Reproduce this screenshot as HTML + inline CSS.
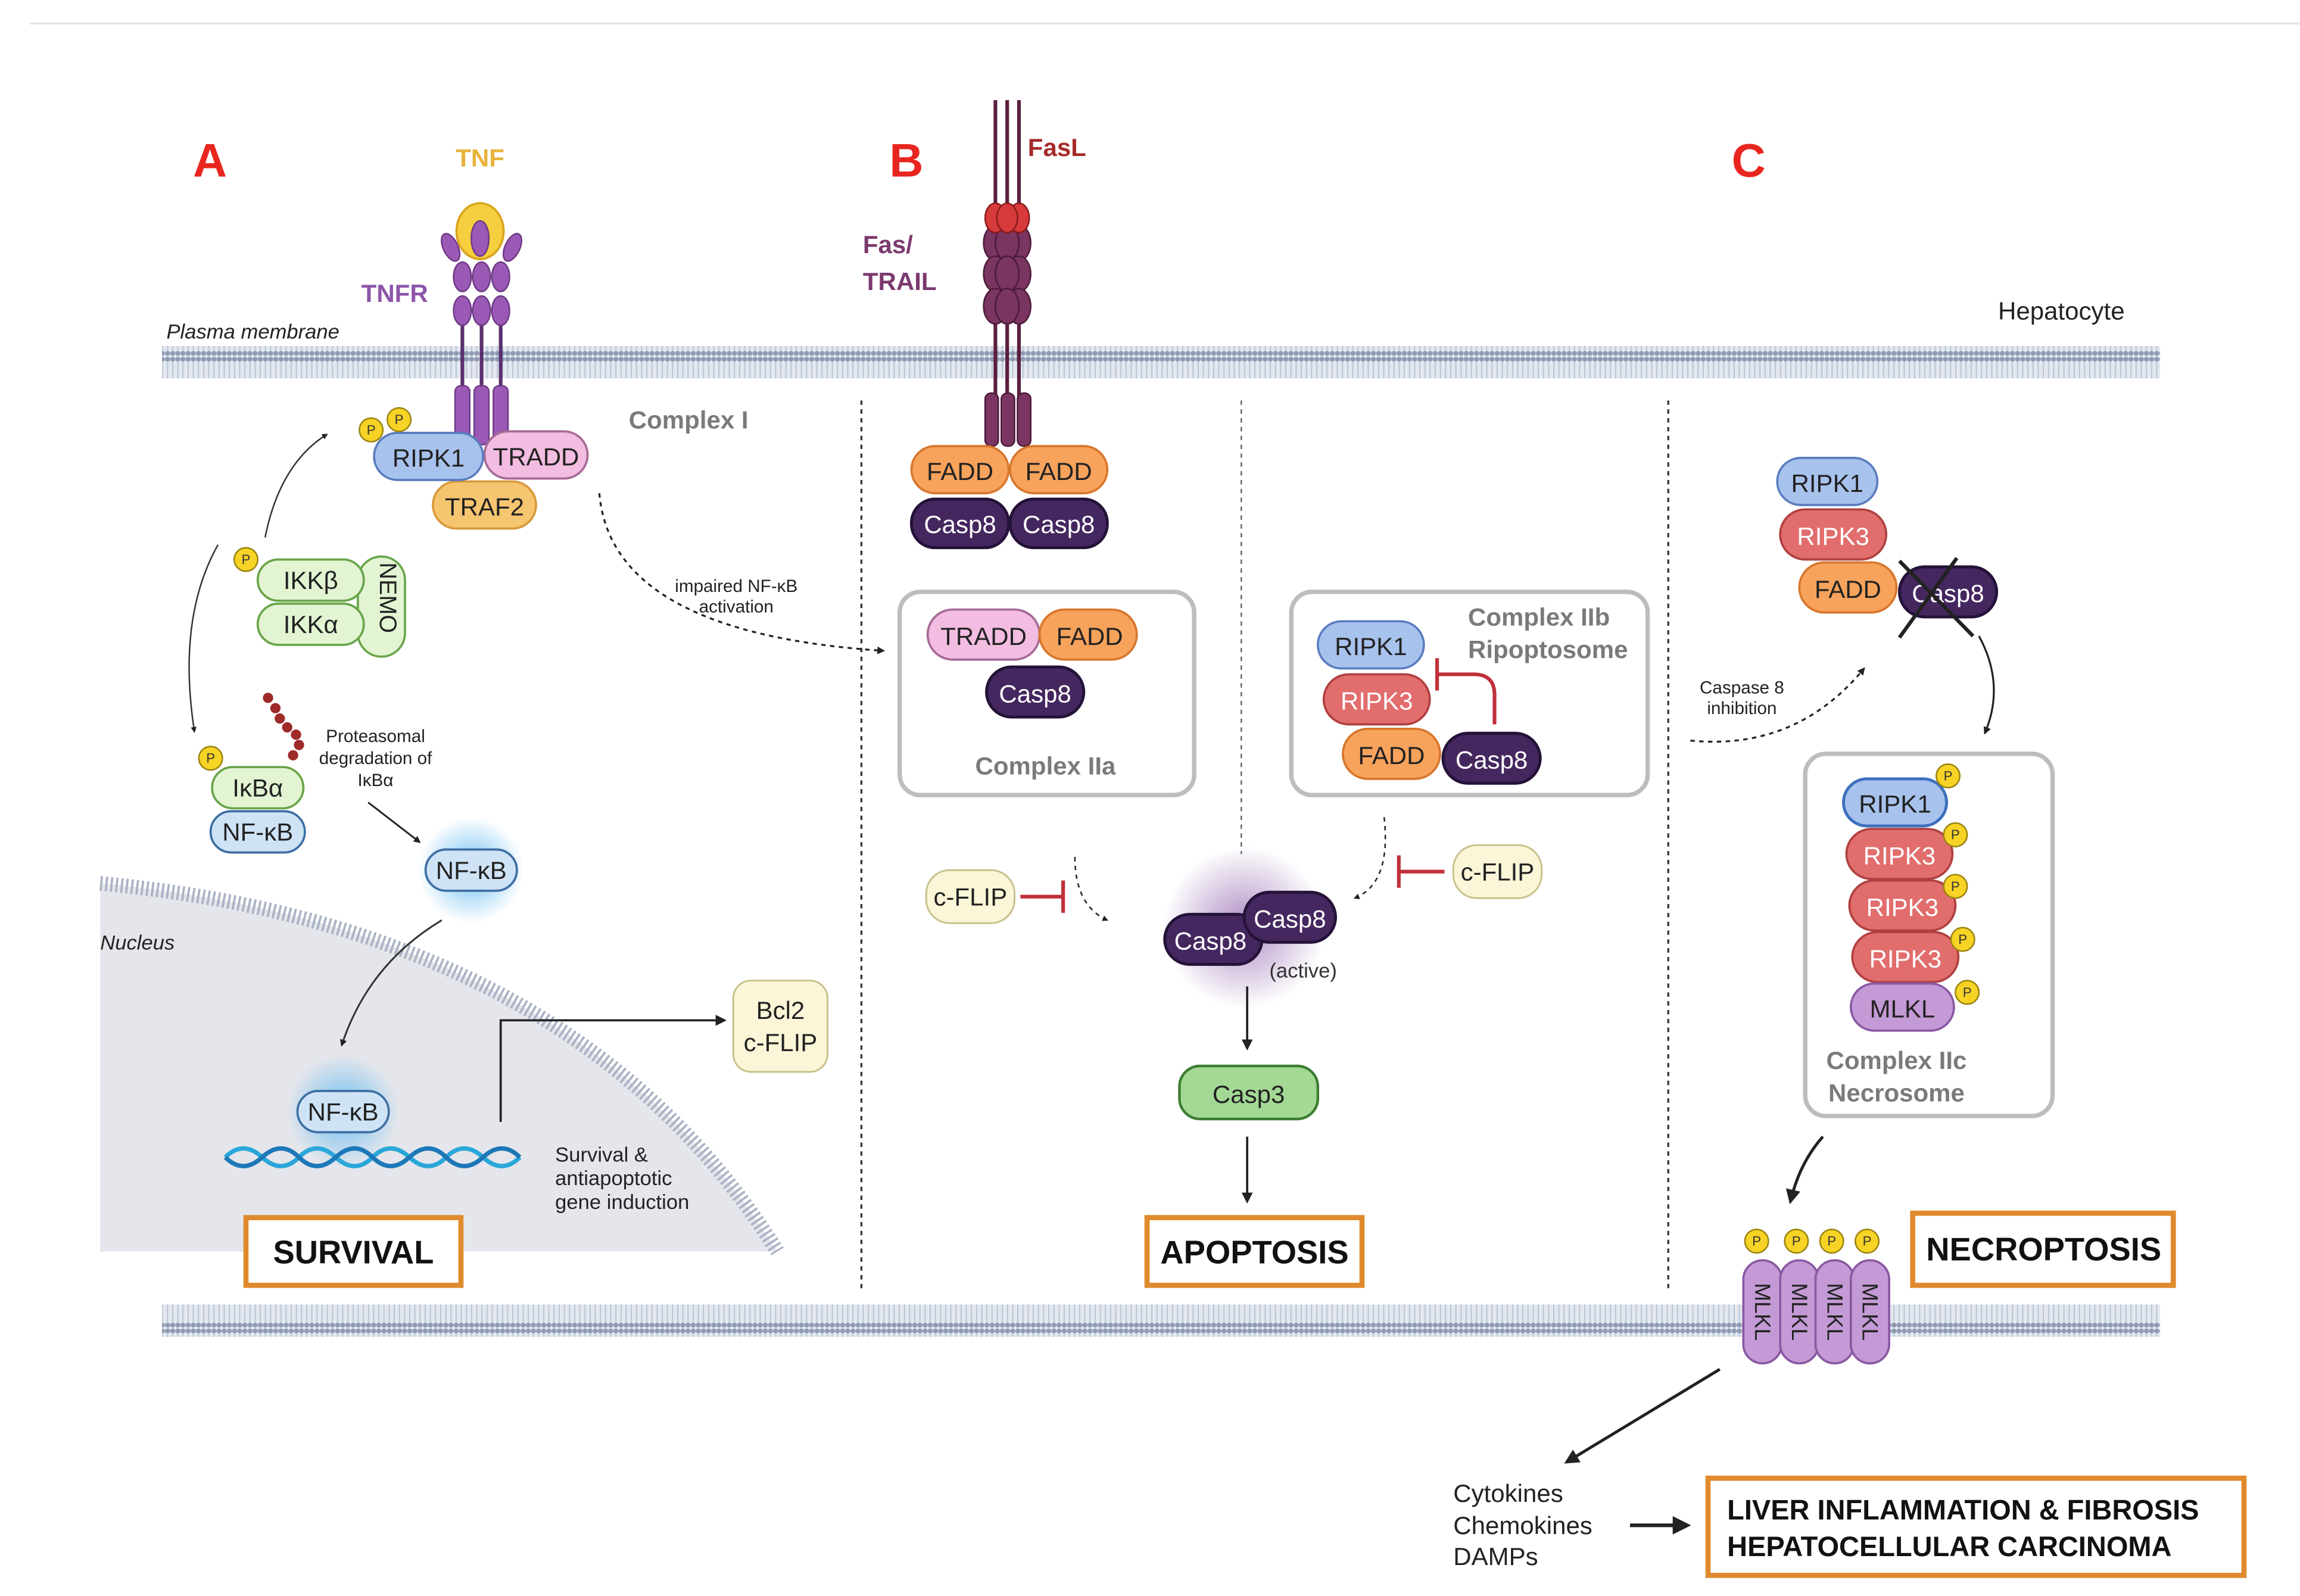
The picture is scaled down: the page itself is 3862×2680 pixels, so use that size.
<!DOCTYPE html>
<html><head><meta charset="utf-8"><style>
html,body{margin:0;padding:0;background:#fff;}
svg{display:block;}
text{font-family:"Liberation Sans",sans-serif;}
</style></head><body>
<svg width="3862" height="2680" viewBox="0 0 1562 1084" xmlns="http://www.w3.org/2000/svg">
<defs>
<pattern id="mem" x="0" y="0" width="3.5" height="22" patternUnits="userSpaceOnUse">
<rect width="3.5" height="22" fill="#e3e8f0"/>
<circle cx="1.75" cy="2" r="1.7" fill="#8e9bb2"/>
<circle cx="1.75" cy="20" r="1.7" fill="#8e9bb2"/>
<line x1="1.75" y1="4" x2="1.75" y2="18" stroke="#b9c3d3" stroke-width="0.8"/>
</pattern>
<radialGradient id="glowB"><stop offset="0" stop-color="#5fb8f0" stop-opacity="0.9"/><stop offset="1" stop-color="#5fb8f0" stop-opacity="0"/></radialGradient>
<radialGradient id="glowP"><stop offset="0" stop-color="#8a5aa8" stop-opacity="0.7"/><stop offset="1" stop-color="#8a5aa8" stop-opacity="0"/></radialGradient>
<marker id="ar" viewBox="0 0 10 10" refX="8" refY="5" markerWidth="5" markerHeight="5" orient="auto"><path d="M0,0L10,5L0,10z" fill="#222"/></marker>
<marker id="arB" viewBox="0 0 10 10" refX="8" refY="5" markerWidth="4" markerHeight="4" orient="auto"><path d="M0,0L10,5L0,10z" fill="#222"/></marker>
</defs>

<line x1="20" y1="16" x2="1562" y2="16" stroke="#e6e6e6" stroke-width="1.5"/>

<path d="M68,600 Q390,630 528,850 L68,850 Z" fill="#e4e6ec"/>
<path d="M68,600 Q390,630 528,850" fill="none" stroke="#a9b2c4" stroke-width="10" stroke-dasharray="1.5 2"/>
<text x="68" y="645" font-size="14" font-style="italic" fill="#222">Nucleus</text>

<rect x="110" y="235" width="1357" height="22" fill="url(#mem)"/>
<rect x="110" y="886" width="1357" height="22" fill="url(#mem)"/>
<text x="113" y="230" font-size="14" font-style="italic" fill="#222">Plasma membrane</text>
<text x="1357" y="217" font-size="17" fill="#222">Hepatocyte</text>

<line x1="585" y1="272" x2="585" y2="876" stroke="#333" stroke-width="1.3" stroke-dasharray="3 3"/>
<line x1="843" y1="272" x2="843" y2="580" stroke="#666" stroke-width="1" stroke-dasharray="3 3"/>
<line x1="1133" y1="272" x2="1133" y2="876" stroke="#333" stroke-width="1.3" stroke-dasharray="3 3"/>

<text x="131" y="120" font-size="32" font-weight="bold" fill="#e8261f">A</text>
<text x="604" y="120" font-size="32" font-weight="bold" fill="#e8261f">B</text>
<text x="1176" y="120" font-size="32" font-weight="bold" fill="#e8261f">C</text>

<text x="326" y="113" font-size="17" font-weight="bold" fill="#e8b33a" text-anchor="middle">TNF</text>
<text x="268" y="205" font-size="17" font-weight="bold" fill="#8d55a8" text-anchor="middle">TNFR</text>
<g stroke="#5a2f6e" stroke-width="2.5"><line x1="314" y1="215" x2="314" y2="265"/><line x1="327" y1="215" x2="327" y2="265"/><line x1="340" y1="215" x2="340" y2="265"/></g>
<g fill="#9b59b6" stroke="#6e3a85" stroke-width="1">
<rect x="309" y="262" width="10" height="40" rx="4"/><rect x="322" y="262" width="10" height="40" rx="4"/><rect x="335" y="262" width="10" height="40" rx="4"/>
<ellipse cx="314" cy="211" rx="6" ry="10"/><ellipse cx="327" cy="211" rx="6" ry="10"/><ellipse cx="340" cy="211" rx="6" ry="10"/>
<ellipse cx="314" cy="188" rx="6" ry="10"/><ellipse cx="327" cy="188" rx="6" ry="10"/><ellipse cx="340" cy="188" rx="6" ry="10"/>
<ellipse cx="306" cy="168" rx="5" ry="10" transform="rotate(-25 306 168)"/><ellipse cx="348" cy="168" rx="5" ry="10" transform="rotate(25 348 168)"/>
</g>
<ellipse cx="326" cy="157" rx="16" ry="19" fill="#f5cf3f" stroke="#d9a520" stroke-width="1.5"/>
<ellipse cx="326" cy="162" rx="6" ry="12" fill="#9b59b6" stroke="#6e3a85"/>

<text x="427" y="291" font-size="17" font-weight="bold" fill="#7a7a7a">Complex I</text>
<rect x="329" y="293" width="70" height="32" rx="16" fill="#f2bde0" stroke="#a66a95" stroke-width="1.5"/>
<text x="364" y="316" font-size="17" text-anchor="middle" fill="#222">TRADD</text>
<rect x="294" y="327" width="70" height="32" rx="16" fill="#f6c56f" stroke="#d79a3a" stroke-width="1.5"/>
<text x="329" y="350" font-size="17" text-anchor="middle" fill="#222">TRAF2</text>
<rect x="254" y="294" width="74" height="32" rx="16" fill="#a7c2ec" stroke="#5a7dbf" stroke-width="1.5"/>
<text x="291" y="317" font-size="17" text-anchor="middle" fill="#222">RIPK1</text>
<g fill="#f6d324" stroke="#9a8210" stroke-width="1"><circle cx="252" cy="292" r="8"/><circle cx="271" cy="285" r="8"/><circle cx="167" cy="380" r="8"/><circle cx="143" cy="515" r="8"/></g>
<g font-size="9" text-anchor="middle" fill="#333"><text x="252" y="295">P</text><text x="271" y="288">P</text><text x="167" y="383">P</text><text x="143" y="518">P</text></g>

<rect x="243" y="378" width="32" height="68" rx="16" fill="#e3f4d3" stroke="#68a54a" stroke-width="1.5"/>
<text x="252" y="412" font-size="16" fill="#222" text-anchor="middle" transform="rotate(90 258 412)">NEMO</text>
<rect x="175" y="380" width="72" height="28" rx="14" fill="#e3f4d3" stroke="#68a54a" stroke-width="1.5"/>
<text x="211" y="400" font-size="17" text-anchor="middle" fill="#222">IKKβ</text>
<rect x="175" y="410" width="72" height="28" rx="14" fill="#e3f4d3" stroke="#68a54a" stroke-width="1.5"/>
<text x="211" y="430" font-size="17" text-anchor="middle" fill="#222">IKKα</text>
<path d="M180,365 Q190,315 222,295" fill="none" stroke="#333" stroke-width="1" marker-end="url(#arB)"/>
<path d="M148,370 Q120,420 132,497" fill="none" stroke="#333" stroke-width="1" marker-end="url(#arB)"/>

<g fill="#9e2a2a"><circle cx="182" cy="474" r="3.5"/><circle cx="187" cy="481" r="3.5"/><circle cx="190" cy="488" r="3.5"/><circle cx="195" cy="494" r="3.5"/><circle cx="201" cy="499" r="3.5"/><circle cx="203" cy="506" r="3.5"/><circle cx="199" cy="513" r="3.5"/></g>
<rect x="144" y="521" width="62" height="28" rx="14" fill="#e3f4d3" stroke="#68a54a" stroke-width="1.5"/>
<text x="175" y="541" font-size="17" text-anchor="middle" fill="#222">IκBα</text>
<rect x="143" y="551" width="64" height="28" rx="14" fill="#cfe3f6" stroke="#3d6fa3" stroke-width="1.5"/>
<text x="175" y="571" font-size="17" text-anchor="middle" fill="#222">NF-κB</text>
<g font-size="12" text-anchor="middle" fill="#222"><text x="255" y="504">Proteasomal</text><text x="255" y="519">degradation of</text><text x="255" y="534">IκBα</text></g>
<line x1="250" y1="545" x2="285" y2="572" stroke="#222" stroke-width="1.2" marker-end="url(#arB)"/>
<circle cx="320" cy="591" r="36" fill="url(#glowB)"/>
<rect x="289" y="577" width="62" height="28" rx="14" fill="#cfe3f6" stroke="#3d6fa3" stroke-width="1.5"/>
<text x="320" y="597" font-size="17" text-anchor="middle" fill="#222">NF-κB</text>
<path d="M300,625 Q250,655 232,710" fill="none" stroke="#333" stroke-width="1.2" marker-end="url(#arB)"/>
<circle cx="233" cy="755" r="38" fill="url(#glowB)"/>
<rect x="202" y="741" width="62" height="28" rx="14" fill="#cfe3f6" stroke="#3d6fa3" stroke-width="1.5"/>
<text x="233" y="761" font-size="17" text-anchor="middle" fill="#222">NF-κB</text>
<path d="M153,786 q12,-12 25,0 t25,0 t25,0 t25,0 t25,0 t25,0 t25,0 t25,0" fill="none" stroke="#2aa7d8" stroke-width="3"/>
<path d="M153,786 q12,12 25,0 t25,0 t25,0 t25,0 t25,0 t25,0 t25,0 t25,0" fill="none" stroke="#1d78b8" stroke-width="3"/>
<path d="M340,762 L340,693 L492,693" fill="none" stroke="#222" stroke-width="1.5" marker-end="url(#ar)"/>
<rect x="498" y="666" width="64" height="62" rx="12" fill="#fbf6d8" stroke="#c9c08a" stroke-width="1.2"/>
<text x="530" y="692" font-size="17" text-anchor="middle" fill="#222">Bcl2</text>
<text x="530" y="714" font-size="17" text-anchor="middle" fill="#222">c-FLIP</text>
<g font-size="14" fill="#222"><text x="377" y="789">Survival &amp;</text><text x="377" y="805">antiapoptotic</text><text x="377" y="821">gene induction</text></g>
<rect x="167" y="827" width="146" height="46" fill="#fff" stroke="#e08a2e" stroke-width="3.5"/>
<text x="240" y="858" font-size="22" font-weight="bold" text-anchor="middle" fill="#111">SURVIVAL</text>

<g font-size="12" text-anchor="middle" fill="#222"><text x="500" y="402">impaired NF-κB</text><text x="500" y="416">activation</text></g>
<path d="M407,335 Q415,430 600,442" fill="none" stroke="#222" stroke-width="1.3" stroke-dasharray="3 3" marker-end="url(#arB)"/>

<text x="698" y="106" font-size="17" font-weight="bold" fill="#a52a2a">FasL</text>
<text x="586" y="172" font-size="17" font-weight="bold" fill="#7b3a6e">Fas/</text>
<text x="586" y="197" font-size="17" font-weight="bold" fill="#7b3a6e">TRAIL</text>
<g stroke="#5a1e3e" stroke-width="2.5"><line x1="676" y1="68" x2="676" y2="300"/><line x1="684" y1="68" x2="684" y2="300"/><line x1="692" y1="68" x2="692" y2="300"/></g>
<g fill="#7a3560" stroke="#4c1a3a" stroke-width="1">
<ellipse cx="676" cy="165" rx="8" ry="12"/><ellipse cx="692" cy="165" rx="8" ry="12"/><ellipse cx="684" cy="165" rx="8" ry="12"/>
<ellipse cx="676" cy="186" rx="8" ry="12"/><ellipse cx="692" cy="186" rx="8" ry="12"/><ellipse cx="684" cy="186" rx="8" ry="12"/>
<ellipse cx="676" cy="208" rx="8" ry="12"/><ellipse cx="692" cy="208" rx="8" ry="12"/><ellipse cx="684" cy="208" rx="8" ry="12"/>
<rect x="669" y="267" width="9" height="36" rx="4"/><rect x="680" y="267" width="9" height="36" rx="4"/><rect x="691" y="267" width="9" height="36" rx="4"/>
</g>
<g fill="#d63a3a" stroke="#8a1a1a" stroke-width="1"><ellipse cx="676" cy="148" rx="7" ry="10"/><ellipse cx="692" cy="148" rx="7" ry="10"/><ellipse cx="684" cy="148" rx="7" ry="10"/></g>

<g>
<rect x="619" y="303" width="66" height="32" rx="16" fill="#f7a35c" stroke="#d8762c" stroke-width="1.5"/>
<text x="652" y="326" font-size="17" text-anchor="middle" fill="#222">FADD</text>
<rect x="686" y="303" width="66" height="32" rx="16" fill="#f7a35c" stroke="#d8762c" stroke-width="1.5"/>
<text x="719" y="326" font-size="17" text-anchor="middle" fill="#222">FADD</text>
<rect x="619" y="339" width="66" height="33" rx="16" fill="#45275f" stroke="#241238" stroke-width="2"/>
<text x="652" y="362" font-size="17" text-anchor="middle" fill="#fff">Casp8</text>
<rect x="686" y="339" width="66" height="33" rx="16" fill="#45275f" stroke="#241238" stroke-width="2"/>
<text x="719" y="362" font-size="17" text-anchor="middle" fill="#fff">Casp8</text>
</g>

<rect x="611" y="402" width="200" height="138" rx="14" fill="#fff" stroke="#bdbdbd" stroke-width="3"/>
<rect x="630" y="414" width="76" height="34" rx="17" fill="#f2bde0" stroke="#a66a95" stroke-width="1.5"/>
<text x="668" y="438" font-size="17" text-anchor="middle" fill="#222">TRADD</text>
<rect x="706" y="414" width="66" height="34" rx="17" fill="#f7a35c" stroke="#d8762c" stroke-width="1.5"/>
<text x="740" y="438" font-size="17" text-anchor="middle" fill="#222">FADD</text>
<rect x="670" y="453" width="66" height="34" rx="17" fill="#45275f" stroke="#241238" stroke-width="2"/>
<text x="703" y="477" font-size="17" text-anchor="middle" fill="#fff">Casp8</text>
<text x="710" y="526" font-size="17" font-weight="bold" text-anchor="middle" fill="#7a7a7a">Complex IIa</text>

<rect x="877" y="402" width="242" height="138" rx="14" fill="#fff" stroke="#bdbdbd" stroke-width="3"/>
<text x="997" y="425" font-size="17" font-weight="bold" fill="#7a7a7a">Complex IIb</text>
<text x="997" y="447" font-size="17" font-weight="bold" fill="#7a7a7a">Ripoptosome</text>
<rect x="895" y="422" width="72" height="32" rx="16" fill="#a7c2ec" stroke="#5a7dbf" stroke-width="1.5"/>
<text x="931" y="445" font-size="17" text-anchor="middle" fill="#222">RIPK1</text>
<rect x="899" y="458" width="72" height="34" rx="17" fill="#e26d6d" stroke="#b04040" stroke-width="1.5"/>
<text x="935" y="482" font-size="17" text-anchor="middle" fill="#fff">RIPK3</text>
<rect x="912" y="495" width="66" height="34" rx="17" fill="#f7a35c" stroke="#d8762c" stroke-width="1.5"/>
<text x="945" y="519" font-size="17" text-anchor="middle" fill="#222">FADD</text>
<rect x="980" y="498" width="66" height="34" rx="17" fill="#45275f" stroke="#241238" stroke-width="2"/>
<text x="1013" y="522" font-size="17" text-anchor="middle" fill="#fff">Casp8</text>
<path d="M1015,492 L1015,472 Q1015,458 1001,458 L976,458" fill="none" stroke="#c0303a" stroke-width="2.5"/>
<line x1="976" y1="447" x2="976" y2="469" stroke="#c0303a" stroke-width="2.5"/>

<rect x="629" y="591" width="60" height="36" rx="16" fill="#fbf6d8" stroke="#c9c08a" stroke-width="1.2"/>
<text x="659" y="615" font-size="17" text-anchor="middle" fill="#222">c-FLIP</text>
<line x1="693" y1="609" x2="722" y2="609" stroke="#c0303a" stroke-width="2.5"/>
<line x1="722" y1="598" x2="722" y2="620" stroke="#c0303a" stroke-width="2.5"/>
<path d="M730,582 Q730,615 752,625" fill="none" stroke="#222" stroke-width="1" stroke-dasharray="3 3" marker-end="url(#arB)"/>
<rect x="987" y="574" width="60" height="36" rx="16" fill="#fbf6d8" stroke="#c9c08a" stroke-width="1.2"/>
<text x="1017" y="598" font-size="17" text-anchor="middle" fill="#222">c-FLIP</text>
<line x1="981" y1="592" x2="950" y2="592" stroke="#c0303a" stroke-width="2.5"/>
<line x1="950" y1="581" x2="950" y2="603" stroke="#c0303a" stroke-width="2.5"/>
<path d="M940,555 Q945,600 920,610" fill="none" stroke="#222" stroke-width="1" stroke-dasharray="3 3" marker-end="url(#arB)"/>

<circle cx="845" cy="630" r="55" fill="url(#glowP)"/>
<rect x="791" y="621" width="66" height="34" rx="17" fill="#45275f" stroke="#241238" stroke-width="2"/>
<text x="822" y="645" font-size="17" text-anchor="middle" fill="#fff">Casp8</text>
<rect x="845" y="606" width="62" height="34" rx="17" fill="#45275f" stroke="#241238" stroke-width="2"/>
<text x="876" y="630" font-size="17" text-anchor="middle" fill="#fff">Casp8</text>
<text x="885" y="664" font-size="14" text-anchor="middle" fill="#333">(active)</text>
<line x1="847" y1="670" x2="847" y2="712" stroke="#222" stroke-width="1.5" marker-end="url(#ar)"/>
<rect x="801" y="724" width="94" height="36" rx="14" fill="#a3d995" stroke="#3e7e32" stroke-width="1.8"/>
<text x="848" y="749" font-size="17" text-anchor="middle" fill="#222">Casp3</text>
<line x1="847" y1="772" x2="847" y2="816" stroke="#222" stroke-width="1.5" marker-end="url(#ar)"/>
<rect x="779" y="827" width="146" height="46" fill="#fff" stroke="#e08a2e" stroke-width="3.5"/>
<text x="852" y="858" font-size="22" font-weight="bold" text-anchor="middle" fill="#111">APOPTOSIS</text>

<rect x="1207" y="311" width="68" height="32" rx="16" fill="#a7c2ec" stroke="#5a7dbf" stroke-width="1.5"/>
<text x="1241" y="334" font-size="17" text-anchor="middle" fill="#222">RIPK1</text>
<rect x="1209" y="346" width="72" height="34" rx="17" fill="#e26d6d" stroke="#b04040" stroke-width="1.5"/>
<text x="1245" y="370" font-size="17" text-anchor="middle" fill="#fff">RIPK3</text>
<rect x="1222" y="382" width="66" height="34" rx="17" fill="#f7a35c" stroke="#d8762c" stroke-width="1.5"/>
<text x="1255" y="406" font-size="17" text-anchor="middle" fill="#222">FADD</text>
<rect x="1290" y="385" width="66" height="34" rx="17" fill="#45275f" stroke="#241238" stroke-width="2"/>
<text x="1323" y="409" font-size="17" text-anchor="middle" fill="#fff">Casp8</text>
<line x1="1290" y1="381" x2="1340" y2="432" stroke="#222" stroke-width="2.5"/>
<line x1="1290" y1="433" x2="1329" y2="379" stroke="#222" stroke-width="2.5"/>
<g font-size="12" text-anchor="middle" fill="#222"><text x="1183" y="471">Caspase 8</text><text x="1183" y="485">inhibition</text></g>
<path d="M1148,503 Q1220,510 1266,454" fill="none" stroke="#222" stroke-width="1.3" stroke-dasharray="3 3" marker-end="url(#arB)"/>
<path d="M1344,432 Q1362,465 1348,498" fill="none" stroke="#222" stroke-width="1.3" marker-end="url(#arB)"/>

<rect x="1226" y="512" width="168" height="246" rx="14" fill="#fff" stroke="#bdbdbd" stroke-width="3"/>
<rect x="1252" y="529" width="70" height="32" rx="16" fill="#a7c2ec" stroke="#3d6fbf" stroke-width="2"/>
<text x="1287" y="552" font-size="17" text-anchor="middle" fill="#222">RIPK1</text>
<rect x="1254" y="563" width="72" height="34" rx="17" fill="#e26d6d" stroke="#b04040" stroke-width="1.5"/>
<text x="1290" y="587" font-size="17" text-anchor="middle" fill="#fff">RIPK3</text>
<rect x="1256" y="598" width="72" height="34" rx="17" fill="#e26d6d" stroke="#b04040" stroke-width="1.5"/>
<text x="1292" y="622" font-size="17" text-anchor="middle" fill="#fff">RIPK3</text>
<rect x="1258" y="633" width="72" height="34" rx="17" fill="#e26d6d" stroke="#b04040" stroke-width="1.5"/>
<text x="1294" y="657" font-size="17" text-anchor="middle" fill="#fff">RIPK3</text>
<rect x="1257" y="668" width="70" height="32" rx="16" fill="#c49ad6" stroke="#8a58a3" stroke-width="1.5"/>
<text x="1292" y="691" font-size="17" text-anchor="middle" fill="#222">MLKL</text>
<g fill="#f6d324" stroke="#9a8210" stroke-width="1"><circle cx="1323" cy="527" r="8"/><circle cx="1328" cy="567" r="8"/><circle cx="1328" cy="602" r="8"/><circle cx="1333" cy="638" r="8"/><circle cx="1336" cy="674" r="8"/>
<circle cx="1193" cy="843" r="8"/><circle cx="1220" cy="843" r="8"/><circle cx="1244" cy="843" r="8"/><circle cx="1268" cy="843" r="8"/></g>
<g font-size="9" text-anchor="middle" fill="#333"><text x="1323" y="530">P</text><text x="1328" y="570">P</text><text x="1328" y="605">P</text><text x="1333" y="641">P</text><text x="1336" y="677">P</text>
<text x="1193" y="846">P</text><text x="1220" y="846">P</text><text x="1244" y="846">P</text><text x="1268" y="846">P</text></g>
<text x="1288" y="726" font-size="17" font-weight="bold" text-anchor="middle" fill="#7a7a7a">Complex IIc</text>
<text x="1288" y="748" font-size="17" font-weight="bold" text-anchor="middle" fill="#7a7a7a">Necrosome</text>
<path d="M1238,772 Q1222,790 1216,816" fill="none" stroke="#222" stroke-width="2" marker-end="url(#ar)"/>

<g fill="#c49ad6" stroke="#8a58a3" stroke-width="1.5">
<rect x="1184" y="856" width="26" height="70" rx="13"/><rect x="1209" y="856" width="26" height="70" rx="13"/><rect x="1233" y="856" width="26" height="70" rx="13"/><rect x="1257" y="856" width="26" height="70" rx="13"/>
</g>
<g font-size="15" fill="#222" text-anchor="middle">
<text x="1197" y="891" transform="rotate(90 1197 891)" dy="5">MLKL</text>
<text x="1222" y="891" transform="rotate(90 1222 891)" dy="5">MLKL</text>
<text x="1246" y="891" transform="rotate(90 1246 891)" dy="5">MLKL</text>
<text x="1270" y="891" transform="rotate(90 1270 891)" dy="5">MLKL</text>
</g>
<rect x="1299" y="824" width="177" height="49" fill="#fff" stroke="#e08a2e" stroke-width="3.5"/>
<text x="1388" y="856" font-size="22" font-weight="bold" text-anchor="middle" fill="#111">NECROPTOSIS</text>

<line x1="1168" y1="930" x2="1064" y2="993" stroke="#222" stroke-width="2" marker-end="url(#ar)"/>
<g font-size="17" fill="#222"><text x="987" y="1020">Cytokines</text><text x="987" y="1042">Chemokines</text><text x="987" y="1063">DAMPs</text></g>
<line x1="1107" y1="1036" x2="1146" y2="1036" stroke="#222" stroke-width="2.5" marker-end="url(#ar)"/>
<rect x="1160" y="1004" width="364" height="66" fill="#fff" stroke="#e08a2e" stroke-width="3.5"/>
<text x="1173" y="1032" font-size="19" font-weight="bold" fill="#111">LIVER INFLAMMATION &amp; FIBROSIS</text>
<text x="1173" y="1057" font-size="19" font-weight="bold" fill="#111">HEPATOCELLULAR CARCINOMA</text>
</svg>
</body></html>
